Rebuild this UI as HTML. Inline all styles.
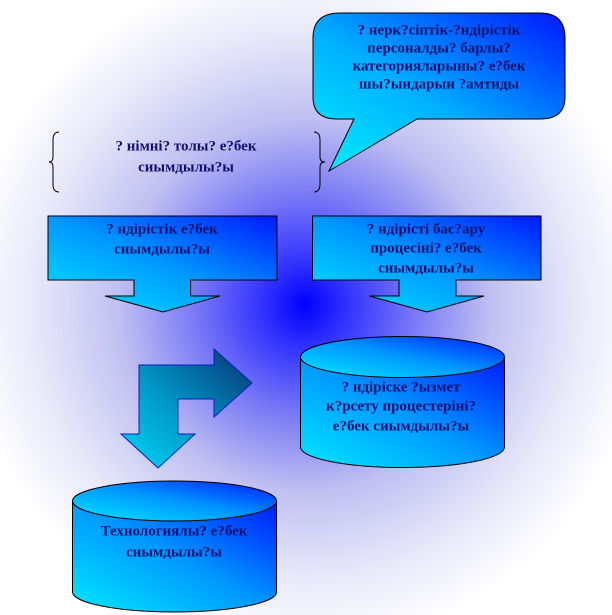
<!DOCTYPE html>
<html><head><meta charset="utf-8"><style>
html,body{margin:0;padding:0;background:#fff}
svg{display:block}
text{font-family:"Liberation Serif",serif;font-weight:bold;font-size:15px;fill:#101070;text-anchor:middle;dominant-baseline:middle}
</style></head><body>
<svg width="612" height="615" viewBox="0 0 612 615" xmlns="http://www.w3.org/2000/svg">
<defs>
<radialGradient id="bg" cx="305" cy="305" r="340" gradientUnits="userSpaceOnUse">
<stop offset="0" stop-color="#0000ff"/>
<stop offset="0.12" stop-color="#3030ff"/>
<stop offset="0.32" stop-color="#7878f6"/>
<stop offset="0.55" stop-color="#c0c0f2"/>
<stop offset="0.8" stop-color="#e8e8fa"/>
<stop offset="1" stop-color="#ffffff"/>
</radialGradient>
<linearGradient id="g" x1="0" y1="1" x2="1" y2="0">
<stop offset="0" stop-color="#00e8ff"/>
<stop offset="0.5" stop-color="#0098ff"/>
<stop offset="1" stop-color="#0018ff"/>
</linearGradient>
<linearGradient id="gc" x1="0" y1="1" x2="1" y2="0">
<stop offset="0" stop-color="#00f0ff"/>
<stop offset="0.45" stop-color="#00b0ff"/>
<stop offset="1" stop-color="#0018ff"/>
</linearGradient>
<linearGradient id="ga" x1="0" y1="1" x2="1" y2="0">
<stop offset="0" stop-color="#00d8f8"/>
<stop offset="0.5" stop-color="#0090c0"/>
<stop offset="1" stop-color="#083070"/>
</linearGradient>
</defs>
<rect width="612" height="615" fill="url(#bg)"/>
<path d="M340,13 H540 Q565,13 565,38 V97 Q565,119 540,119 H417 L329,171 L354,119 H337 Q313,119 313,97 V38 Q313,13 340,13 Z" fill="url(#gc)" stroke="#000" stroke-width="1"/>
<text x="439" y="31">? нерк?сіптік-?ндірістік</text>
<text x="439" y="49">персоналды? барлы?</text>
<text x="439" y="67">категорияларыны? е?бек</text>
<text x="439" y="85">шы?ындарын ?амтиды</text>
<path d="M59,132 Q53,132 53,140 V157 Q53,162 49,162 Q53,162 53,167 V184 Q53,192 59,192" fill="none" stroke="#000" stroke-width="1"/>
<path d="M314,132 Q320,132 320,140 V157 Q320,162 325,162 Q320,162 320,167 V184 Q320,192 314,192" fill="none" stroke="#000" stroke-width="1"/>
<text x="186" y="147">? німні? толы? е?бек</text>
<text x="186" y="168">сиымдылы?ы</text>
<path d="M48,216 H277 V280 H190.6 V296 H220 L163,312 L105,296 H134 V280 H48 Z" fill="url(#g)" stroke="#000" stroke-width="1"/>
<text x="162" y="230">? ндірістік е?бек</text>
<text x="162" y="250">сиымдылы?ы</text>
<path d="M312.5,216 H541 V280 H456 V296 H484 L427,312 L369.5,296 H399 V280 H312.5 Z" fill="url(#g)" stroke="#000" stroke-width="1"/>
<text x="426" y="230">? ндірісті бас?ару</text>
<text x="426" y="249">процесіні? е?бек</text>
<text x="426" y="269">сиымдылы?ы</text>
<path d="M139,365 H214 V349 L252,383 L214,417 V399 H178 V434 H195 L158,468 L121,434 H139 Z" fill="url(#ga)" stroke="#0020c0" stroke-width="1"/>
<path d="M300.5,357 V447 A102,20.5 0 0 0 504.5,447 V357" fill="url(#g)" stroke="#000" stroke-width="1"/>
<ellipse cx="402.5" cy="357" rx="102" ry="20.5" fill="url(#g)" stroke="#000" stroke-width="1"/>
<text x="401" y="388">? ндіріске ?ызмет</text>
<text x="401" y="407">к?рсету процестеріні?</text>
<text x="401" y="427">е?бек сиымдылы?ы</text>
<path d="M72.5,501 V592 A102,20 0 0 0 276.5,592 V501" fill="url(#g)" stroke="#000" stroke-width="1"/>
<ellipse cx="174.5" cy="501" rx="102" ry="20" fill="url(#g)" stroke="#000" stroke-width="1"/>
<text x="174" y="532">Технологиялы? е?бек</text>
<text x="174" y="553">сиымдылы?ы</text>
</svg>
</body></html>
